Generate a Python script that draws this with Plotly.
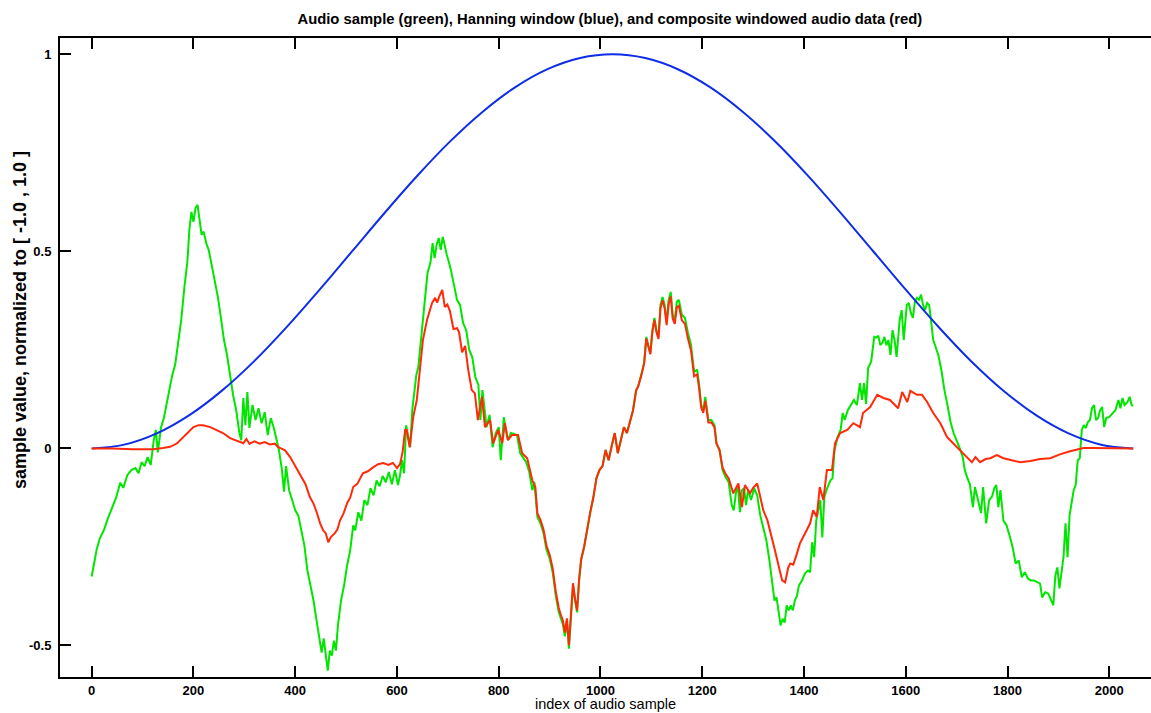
import plotly.graph_objects as go

# ---- data ----
green_idx = [0, 4, 10, 16, 24, 32, 40, 48, 56, 62, 70, 78, 86, 92, 98, 104, 110, 116, 122, 126,
             130, 136, 142, 148, 154, 158, 164, 170, 176, 182, 188, 192, 196, 200, 204, 208, 212, 216, 220, 226,
             230, 236, 242, 248, 254, 260, 266, 272, 278, 284, 290, 294, 298, 302, 306, 310, 316, 322, 328, 334,
             340, 346, 352, 358, 364, 368, 374, 378, 382, 388, 394, 400, 406, 412, 418, 424, 430, 436, 442, 448,
             452, 456, 460, 464, 468, 472, 476, 480, 484, 490, 496, 502, 508, 514, 518, 524, 530, 536, 542, 548,
             554, 560, 566, 572, 578, 584, 590, 596, 602, 606, 610, 614, 618, 622, 626, 630, 634, 638, 642, 648,
             654, 660, 666, 670, 674, 678, 682, 686, 690, 694, 698, 702, 706, 712, 718, 724, 730, 736, 742, 748,
             754, 760, 764, 768, 772, 776, 782, 788, 794, 800, 804, 810, 814, 818, 824, 830, 836, 842, 848, 854,
             860, 866, 870, 876, 882, 888, 894, 900, 906, 912, 918, 922, 926, 930, 934, 938, 942, 946, 950, 954,
             958, 962, 968, 974, 980, 986, 992, 998, 1004, 1010, 1016, 1022, 1028, 1034, 1040, 1046, 1052, 1058, 1064, 1070,
             1074, 1080, 1086, 1090, 1094, 1098, 1102, 1106, 1110, 1114, 1118, 1122, 1126, 1130, 1134, 1138, 1142, 1146, 1150, 1154,
             1160, 1166, 1172, 1178, 1184, 1190, 1194, 1198, 1202, 1206, 1212, 1218, 1224, 1228, 1234, 1240, 1246, 1252, 1258, 1262,
             1266, 1270, 1274, 1278, 1282, 1286, 1290, 1296, 1302, 1308, 1314, 1320, 1326, 1332, 1338, 1342, 1346, 1350, 1354, 1358,
             1362, 1366, 1370, 1374, 1378, 1382, 1386, 1390, 1396, 1402, 1408, 1412, 1416, 1420, 1424, 1428, 1432, 1436, 1440, 1444,
             1448, 1452, 1456, 1460, 1466, 1472, 1476, 1480, 1486, 1492, 1498, 1504, 1510, 1514, 1518, 1522, 1526, 1532, 1538, 1542,
             1546, 1550, 1554, 1558, 1562, 1566, 1570, 1574, 1578, 1582, 1588, 1592, 1596, 1602, 1606, 1610, 1614, 1618, 1622, 1626,
             1630, 1634, 1638, 1642, 1646, 1650, 1654, 1658, 1664, 1670, 1676, 1682, 1688, 1694, 1700, 1706, 1712, 1716, 1720, 1726,
             1732, 1736, 1742, 1748, 1752, 1758, 1764, 1770, 1774, 1778, 1782, 1786, 1792, 1798, 1804, 1810, 1816, 1822, 1828, 1834,
             1840, 1846, 1852, 1858, 1864, 1868, 1874, 1880, 1886, 1890, 1894, 1898, 1902, 1906, 1910, 1914, 1918, 1922, 1926, 1930,
             1934, 1938, 1942, 1946, 1950, 1954, 1958, 1962, 1966, 1970, 1974, 1978, 1982, 1986, 1990, 1994, 2000, 2006, 2012, 2018,
             2022, 2026, 2030, 2036, 2040, 2044, 2047]
green_val = [-0.325, -0.30, -0.255, -0.228, -0.207, -0.177, -0.15, -0.125, -0.087, -0.10, -0.068, -0.055, -0.05, -0.063, -0.035, -0.045, -0.022, -0.042, 0.021, 0.047,
             -0.01, 0.052, 0.078, 0.115, 0.16, 0.184, 0.212, 0.268, 0.326, 0.407, 0.473, 0.555, 0.60, 0.575, 0.61, 0.618, 0.575, 0.542, 0.55, 0.517,
             0.504, 0.466, 0.42, 0.384, 0.331, 0.275, 0.237, 0.181, 0.135, 0.097, 0.041, 0.021, 0.128, 0.059, 0.143, 0.052, 0.11, 0.072, 0.102, 0.064,
             0.092, 0.034, 0.077, 0.052, 0.021, -0.004, -0.055, -0.11, -0.045, -0.106, -0.131, -0.157, -0.17, -0.208, -0.246, -0.31, -0.348, -0.386, -0.437, -0.488,
             -0.518, -0.482, -0.526, -0.564, -0.513, -0.526, -0.488, -0.513, -0.449, -0.386, -0.348, -0.297, -0.259, -0.195, -0.208, -0.162, -0.183, -0.131, -0.144, -0.101,
             -0.119, -0.081, -0.096, -0.07, -0.086, -0.06, -0.091, -0.055, -0.093, -0.068, -0.03, -0.063, 0.059, 0.026, 0.003, 0.097, 0.136, 0.186, 0.207, 0.288,
             0.384, 0.445, 0.473, 0.521, 0.483, 0.517, 0.534, 0.504, 0.537, 0.51, 0.491, 0.473, 0.453, 0.415, 0.377, 0.364, 0.318, 0.30, 0.25, 0.232,
             0.181, 0.161, 0.072, 0.148, 0.097, 0.054, 0.085, 0.003, 0.039, 0.054, -0.030, 0.079, 0.049, 0.021, 0.039, 0.036, 0.034, -0.012, -0.025, -0.035,
             -0.06, -0.106, -0.085, -0.174, -0.19, -0.215, -0.258, -0.279, -0.314, -0.373, -0.416, -0.432, -0.446, -0.477, -0.439, -0.508, -0.434, -0.347, -0.386, -0.416,
             -0.335, -0.284, -0.25, -0.2, -0.162, -0.124, -0.076, -0.055, -0.045, -0.004, -0.03, 0.006, 0.039, -0.012, 0.021, 0.054, 0.039, 0.072, 0.097, 0.148,
             0.158, 0.186, 0.219, 0.283, 0.262, 0.242, 0.30, 0.331, 0.30, 0.283, 0.364, 0.384, 0.364, 0.321, 0.377, 0.397, 0.339, 0.326, 0.372, 0.377,
             0.339, 0.331, 0.293, 0.262, 0.194, 0.20, 0.161, 0.11, 0.097, 0.131, 0.072, 0.072, 0.059, 0.013, -0.004, -0.055, -0.073, -0.086, -0.144, -0.157,
             -0.114, -0.093, -0.162, -0.106, -0.101, -0.144, -0.106, -0.131, -0.101, -0.119, -0.17, -0.20, -0.233, -0.284, -0.348, -0.386, -0.378, -0.411, -0.449, -0.432,
             -0.442, -0.398, -0.411, -0.398, -0.411, -0.386, -0.375, -0.348, -0.335, -0.317, -0.31, -0.314, -0.238, -0.276, -0.183, -0.157, -0.131, -0.226, -0.124, -0.106,
             -0.093, -0.081, -0.076, -0.004, 0.029, 0.047, 0.09, 0.072, 0.097, 0.11, 0.123, 0.11, 0.166, 0.123, 0.166, 0.113, 0.204, 0.22, 0.283, 0.281,
             0.286, 0.262, 0.268, 0.283, 0.262, 0.275, 0.237, 0.30, 0.275, 0.232, 0.326, 0.351, 0.275, 0.364, 0.369, 0.344, 0.331, 0.372, 0.382, 0.377,
             0.39, 0.364, 0.351, 0.369, 0.364, 0.321, 0.275, 0.26, 0.237, 0.199, 0.148, 0.11, 0.067, 0.039, 0.021, 0.001, -0.022, -0.055, -0.071, -0.091,
             -0.149, -0.098, -0.131, -0.164, -0.098, -0.19, -0.131, -0.121, -0.101, -0.093, -0.149, -0.106, -0.183, -0.195, -0.221, -0.251, -0.292, -0.284, -0.327, -0.314,
             -0.33, -0.335, -0.335, -0.34, -0.343, -0.378, -0.365, -0.368, -0.386, -0.398, -0.322, -0.302, -0.355, -0.314, -0.276, -0.19, -0.276, -0.17, -0.131, -0.106,
             -0.093, -0.03, -0.025, 0.047, 0.059, 0.052, 0.067, 0.072, 0.102, 0.11, 0.072, 0.077, 0.097, 0.105, 0.054, 0.077, 0.08, 0.09, 0.097, 0.123,
             0.102, 0.128, 0.11, 0.118, 0.131, 0.11, 0.108]

blue_idx = [0, 64, 128, 192, 256, 320, 384, 448, 512, 576, 640, 704, 768, 832, 896, 960, 1024,
            1088, 1152, 1216, 1280, 1344, 1408, 1472, 1536, 1600, 1664, 1728, 1792, 1856, 1920, 1984, 2047]
blue_val = [0.0, 0.0096, 0.0381, 0.0844, 0.1466, 0.2221, 0.3089, 0.4028, 0.5004, 0.598, 0.6918, 0.7784, 0.8538, 0.9161, 0.9622, 0.9905, 1.0,
            0.9904, 0.9621, 0.9160, 0.8537, 0.7783, 0.6917, 0.5979, 0.5003, 0.4027, 0.3088, 0.2220, 0.1465, 0.0843, 0.0380, 0.0095, 0.0]

red_idx = [0, 40, 80, 120, 140, 154, 168, 180, 190, 200, 210, 219, 233, 246, 258, 272, 286, 298, 304, 310,
           320, 330, 340, 350, 360, 366, 372, 380, 390, 400, 409, 420, 429, 436, 443, 449, 455, 460, 465, 470,
           478, 483, 488, 495, 502, 508, 514, 522, 533, 543, 553, 563, 573, 583, 592, 600, 606, 611, 616, 619,
           625, 632, 639, 645, 651, 659, 669, 675, 679, 683, 689, 694, 699, 704, 711, 718, 722, 728, 734, 740,
           747, 753, 759, 767, 773, 783, 789, 799, 807, 812, 818, 826, 838, 846, 856, 866, 872, 876, 882, 888,
           894, 900, 906, 912, 918, 922, 926, 930, 934, 938, 942, 946, 950, 954, 958, 962, 968, 974, 980, 986,
           992, 998, 1004, 1010, 1016, 1022, 1028, 1034, 1040, 1046, 1052, 1058, 1064, 1070, 1074, 1080, 1086, 1090, 1094, 1098,
           1102, 1106, 1110, 1114, 1118, 1122, 1126, 1130, 1134, 1138, 1142, 1146, 1150, 1154, 1160, 1166, 1172, 1178, 1184, 1190,
           1194, 1198, 1202, 1206, 1212, 1218, 1224, 1228, 1234, 1240, 1246, 1252, 1261, 1271, 1278, 1284, 1294, 1300, 1308, 1314,
           1320, 1328, 1334, 1343, 1349, 1357, 1363, 1369, 1373, 1379, 1386, 1392, 1402, 1412, 1418, 1425, 1431, 1438, 1445, 1455,
           1461, 1471, 1485, 1497, 1510, 1516, 1530, 1544, 1556, 1569, 1585, 1593, 1603, 1609, 1622, 1632, 1642, 1654, 1668, 1681,
           1693, 1707, 1720, 1730, 1737, 1746, 1757, 1766, 1779, 1792, 1812, 1825, 1845, 1864, 1884, 1903, 1923, 1939, 1949, 1969,
           2000, 2047]
red_val = [0.0, 0.0, -0.002, -0.002, 0.001, 0.004, 0.013, 0.028, 0.041, 0.054, 0.059, 0.059, 0.054, 0.047, 0.039, 0.026, 0.019, 0.013, 0.024, 0.012,
           0.018, 0.012, 0.016, 0.010, 0.012, 0.004, 0.0, -0.005, -0.022, -0.045, -0.063, -0.09, -0.124, -0.14, -0.165, -0.19, -0.208, -0.215, -0.238, -0.225,
           -0.215, -0.205, -0.183, -0.165, -0.139, -0.125, -0.098, -0.09, -0.063, -0.058, -0.048, -0.04, -0.037, -0.042, -0.037, -0.05, -0.04, -0.01, 0.047, 0.047,
           0.003, 0.08, 0.123, 0.20, 0.275, 0.326, 0.369, 0.382, 0.37, 0.385, 0.402, 0.359, 0.365, 0.349, 0.303, 0.305, 0.295, 0.244, 0.26, 0.20,
           0.148, 0.14, 0.072, 0.131, 0.054, 0.072, 0.013, 0.047, 0.013, 0.064, 0.021, 0.034, 0.034, -0.012, -0.025, -0.081, -0.098, -0.165, -0.181, -0.206,
           -0.248, -0.269, -0.304, -0.362, -0.405, -0.422, -0.436, -0.467, -0.431, -0.499, -0.427, -0.342, -0.381, -0.411, -0.332, -0.281, -0.248, -0.199, -0.161, -0.124,
           -0.076, -0.055, -0.045, -0.004, -0.03, 0.006, 0.039, -0.012, 0.021, 0.054, 0.039, 0.072, 0.097, 0.147, 0.157, 0.184, 0.217, 0.279, 0.259, 0.239,
           0.296, 0.326, 0.295, 0.278, 0.357, 0.376, 0.356, 0.313, 0.367, 0.386, 0.329, 0.316, 0.358, 0.362, 0.325, 0.316, 0.278, 0.248, 0.183, 0.188,
           0.151, 0.103, 0.09, 0.121, 0.066, 0.066, 0.054, 0.012, -0.004, -0.049, -0.065, -0.076, -0.114, -0.089, -0.149, -0.093, -0.114, -0.10, -0.089, -0.124,
           -0.157, -0.182, -0.216, -0.259, -0.292, -0.335, -0.340, -0.302, -0.292, -0.295, -0.267, -0.241, -0.216, -0.19, -0.157, -0.174, -0.098, -0.131, -0.055, -0.055,
           0.013, 0.039, 0.047, 0.064, 0.054, 0.09, 0.105, 0.136, 0.128, 0.123, 0.102, 0.143, 0.118, 0.146, 0.136, 0.136, 0.118, 0.09, 0.064, 0.029,
           0.013, -0.004, -0.022, -0.035, -0.022, -0.035, -0.027, -0.025, -0.017, -0.025, -0.032, -0.035, -0.032, -0.027, -0.025, -0.015, -0.007, -0.002, 0.001, 0.001,
           0.0, 0.0]

x_ticks = [0, 200, 400, 600, 800, 1000, 1200, 1400, 1600, 1800, 2000]
y_ticks = [-0.5, 0, 0.5, 1]
y_tick_text = ["-0.5", "0", "0.5", "1"]

title_text = "Audio sample (green), Hanning window (blue), and composite windowed audio data (red)"
x_title = "index of audio sample"
y_title = "sample value, normalized to [ -1.0 , 1.0 ]"

FONT = "Liberation Sans, Arial, Helvetica, sans-serif"

fig = go.Figure()
fig.add_trace(go.Scatter(x=green_idx, y=green_val, mode="lines",
                         line=dict(color="#00e600", width=2), name="audio sample"))
fig.add_trace(go.Scatter(x=blue_idx, y=blue_val, mode="lines",
                         line=dict(color="#0f2de6", width=2, shape="spline"), name="Hanning window"))
fig.add_trace(go.Scatter(x=red_idx, y=red_val, mode="lines",
                         line=dict(color="#ff2a0a", width=2), name="windowed"))

fig.update_layout(
    width=1151, height=713,
    margin=dict(l=60, r=0, t=38, b=36),
    paper_bgcolor="white", plot_bgcolor="white",
    showlegend=False,
    font=dict(family=FONT, color="black"),
    title=dict(text=title_text, x=0.504, xref="paper", xanchor="center",
               y=1 - 19 / 713, yref="container", yanchor="middle",
               font=dict(family=FONT, size=14.8, weight="bold", color="black")),
)
fig.update_xaxes(range=[-62.3, 2082], tickvals=x_ticks, ticks="inside", ticklen=11, tickwidth=2,
                 tickcolor="black", showline=True, linecolor="black", linewidth=2, mirror="ticks",
                 showgrid=False, zeroline=False,
                 tickfont=dict(family=FONT, size=13, weight="bold", color="black"))
fig.update_yaxes(range=[-0.580, 1.0414], tickvals=y_ticks, ticktext=y_tick_text, ticks="inside",
                 ticklen=11, tickwidth=2, tickcolor="black", showline=True, linecolor="black",
                 linewidth=2, mirror=False, showgrid=False, zeroline=False, ticklabelstandoff=4,
                 tickfont=dict(family=FONT, size=13, weight="bold", color="black"))

fig.add_annotation(text=x_title, xref="paper", yref="paper", x=(605 - 60) / 1091, y=-(713 - 677) / 639,
                   xanchor="center", yanchor="bottom", showarrow=False, borderpad=0,
                   font=dict(family=FONT, size=14.5, color="black"))
fig.add_annotation(text=y_title, xref="paper", yref="paper", x=-(60 - 20) / 1091, y=(677 - 320) / 639,
                   xanchor="center", yanchor="middle", showarrow=False, textangle=-90,
                   font=dict(family=FONT, size=18, weight="bold", color="black"))

fig.write_html("out.html",
               config={"displayModeBar": False},
               post_script="document.body.style.margin='0';document.body.style.padding='0';"
                           "document.body.style.overflow='hidden';")
